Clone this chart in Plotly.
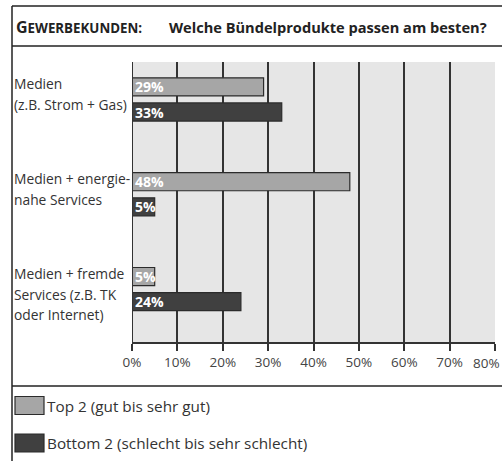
import plotly.graph_objects as go

categories = ["Medien (z.B. Strom + Gas)", "Medien + energienahe Services", "Medien + fremde Services (z.B. TK oder Internet)"]
category_lines = [["Medien", "(z.B. Strom + Gas)"],
                  ["Medien + energie-", "nahe Services"],
                  ["Medien + fremde", "Services (z.B. TK", "oder Internet)"]]
top2 = [29, 48, 5]
bottom2 = [33, 5, 24]
series_names = ["Top 2 (gut bis sehr gut)", "Bottom 2 (schlecht bis sehr schlecht)"]
tick_vals = [0, 10, 20, 30, 40, 50, 60, 70, 80]
tick_text = ["0%", "10%", "20%", "30%", "40%", "50%", "60%", "70%", "80%"]

W, H = 502, 461
L, R, T, B = 132, 7, 62, 119
pw, ph = W - L - R, H - T - B
FONT = "Open Sans"

def px(x):
    return (x - L) / pw

def py(y):
    return 1 - (y - T) / ph

fig = go.Figure()
colors = ["#a6a6a6", "#404040"]
for name, vals, col in zip(series_names, [top2, bottom2], colors):
    fig.add_trace(go.Bar(
        y=categories, x=vals, orientation="h", name=name,
        marker=dict(color=col, line=dict(color="#2b2b2b", width=1.2)),
        text=[f"{v}%" for v in vals], textposition="inside",
        insidetextanchor="start", constraintext="none",
        textfont=dict(family=FONT, size=14, color="white", weight="bold"),
        cliponaxis=False, showlegend=False,
    ))

# last tick label is placed separately so it stays inside the page
shown_ticks = tick_text[:-1] + [""]

fig.update_layout(
    width=W, height=H, margin=dict(l=L, r=R, t=T, b=B),
    paper_bgcolor="white", plot_bgcolor="#e6e6e6",
    barmode="group", bargap=0.47, bargroupgap=0.28,
    font=dict(family=FONT, size=13.5, color="#333333"),
    xaxis=dict(range=[0, 80], tickvals=tick_vals, ticktext=shown_ticks,
               showgrid=True, gridcolor="#333333", gridwidth=1.5,
               ticks="outside", ticklen=7, tickcolor="#333333", tickwidth=1.5,
               showline=True, linecolor="#333333", linewidth=1.5,
               zeroline=False, tickfont=dict(size=13.5, color="#444444"),
               fixedrange=True),
    yaxis=dict(range=[2.558, -0.395], showticklabels=False, showgrid=False,
               zeroline=False, fixedrange=True, type="category"),
)

fig.add_annotation(x=tick_vals[-1], xref="x", y=0, yref="paper", yanchor="top",
                   yshift=-10, xshift=-9, text=tick_text[-1], showarrow=False,
                   font=dict(family=FONT, size=13.5, color="#444444"))

# left edge of the plot
fig.add_shape(type="line", xref="x", yref="paper", x0=0, x1=0, y0=0, y1=1,
              line=dict(color="#333333", width=2))

# category labels
for cat, lines in zip(categories, category_lines):
    for i, ln in enumerate(lines):
        fig.add_annotation(x=px(12), xref="paper", y=cat, yref="y",
                           text=ln, showarrow=False, xanchor="left", yanchor="middle",
                           yshift=15.5 - 20.5 * i,
                           font=dict(family=FONT, size=13.8, color="#333333"))

# frame lines
frame = dict(color="#222222", width=1.5)
fig.add_shape(type="line", xref="paper", yref="paper", x0=px(12), x1=px(502), y0=py(6), y1=py(6), line=frame)
fig.add_shape(type="line", xref="paper", yref="paper", x0=px(12), x1=px(12), y0=py(6), y1=py(461), line=frame)
fig.add_shape(type="line", xref="paper", yref="paper", x0=px(12), x1=px(502), y0=py(46), y1=py(46), line=frame)
fig.add_shape(type="line", xref="paper", yref="paper", x0=px(12), x1=px(502), y0=py(386), y1=py(386), line=frame)

# title
fig.add_annotation(x=px(14), xref="paper", y=py(27), yref="paper", showarrow=False,
                   xanchor="left", yanchor="middle",
                   text="<b>G<span style='font-size:13.3px'>EWERBEKUNDEN:</span></b>",
                   font=dict(family=FONT, size=16, color="#222222"))
fig.add_annotation(x=px(167), xref="paper", y=py(27), yref="paper", showarrow=False,
                   xanchor="left", yanchor="middle",
                   text="<b>Welche Bündelprodukte passen am besten?</b>",
                   font=dict(family=FONT, size=14.6, color="#222222"))

# legend
for (name, col, yc) in [(series_names[0], colors[0], 405.5), (series_names[1], colors[1], 443)]:
    fig.add_shape(type="rect", xref="paper", yref="paper",
                  x0=px(15), x1=px(44), y0=py(yc - 9), y1=py(yc + 9),
                  fillcolor=col, line=dict(color="#2b2b2b", width=1.2))
    fig.add_annotation(x=px(45), xref="paper", y=py(yc), yref="paper", showarrow=False,
                       xanchor="left", yanchor="middle", text=name,
                       font=dict(family=FONT, size=15.3, color="#333333"))

fig.write_html("out.html", config={"displayModeBar": False},
               post_script="document.body.style.margin='0';document.body.style.overflow='hidden';")
